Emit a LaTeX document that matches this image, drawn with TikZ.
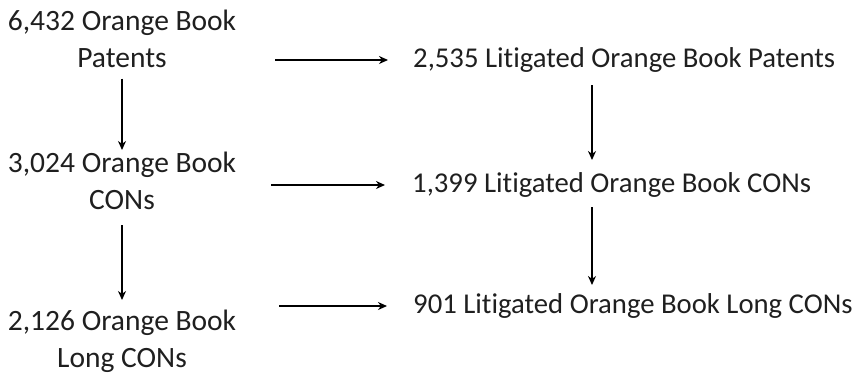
\documentclass[tikz,border=0pt]{standalone}
\usepackage{fontspec}
\setmainfont{Carlito}[Ligatures={NoCommon}]
\usetikzlibrary{arrows.meta}
\begin{document}
\begin{tikzpicture}[x=1pt,y=-1pt,
  lbl/.style={inner sep=0pt,align=center,font=\fontsize{29.5}{37}\selectfont,text=black!88},
  rlbl/.style={lbl,anchor=west,font=\fontsize{28.7}{36}\selectfont},
  arr/.style={line width=1.6pt,-{Stealth[length=9pt,width=8pt]}}]
\useasboundingbox (0,0) rectangle (857,373);
\node[lbl] (p1) at (122,39) {6,432 Orange Book\\Patents};
\node[lbl] (c1) at (122,181) {3,024 Orange Book\\CONs};
\node[lbl] (l1) at (122,341) {2,126 Orange Book\\Long CONs};
\node[rlbl] (p2) at (413,60) {2,535 Litigated Orange Book Patents};
\node[rlbl] (c2) at (412,185) {1,399 Litigated Orange Book CONs};
\node[rlbl] (l2) at (413,306) {901 Litigated Orange Book Long CONs};
% vertical arrows
\draw[arr,shorten <=39.5pt,shorten >=31pt] (p1.center) -- (c1.center);
\draw[arr,shorten <=44pt,shorten >=41pt] (c1.center) -- (l1.center);
\draw[arr,shorten <=25pt,shorten >=25pt] ([xshift=180pt]c2.west |- p2.west) -- ([xshift=180pt]c2.west);
\draw[arr,shorten <=22pt,shorten >=21pt] ([xshift=180pt]c2.west) -- ([xshift=180pt]c2.west |- l2.west);
% horizontal arrows
\draw[arr,shorten <=39pt,shorten >=25pt] (p1.east |- p2.west) -- (p2.west);
\draw[arr,shorten <=35pt,shorten >=27pt] (c1.east |- c2.west) -- (c2.west);
\draw[arr,shorten <=43pt,shorten >=26pt] (l1.east |- l2.west) -- (l2.west);
\end{tikzpicture}
\end{document}
